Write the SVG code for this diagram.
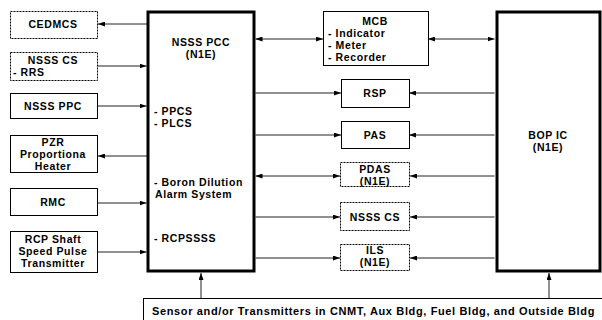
<svg xmlns="http://www.w3.org/2000/svg" width="602" height="320" viewBox="0 0 602 320">
<defs>
<marker id="ah" markerWidth="7" markerHeight="5" refX="7" refY="2.5" orient="auto-start-reverse" markerUnits="userSpaceOnUse">
<path d="M0,0 L7,2.5 L0,5 z" fill="#000"/>
</marker>
<style>
.t{font-family:"Liberation Sans",Arial,sans-serif;font-weight:bold;font-size:10.5px;letter-spacing:0.6px;fill:#000}
.c{text-anchor:middle}
.b{fill:#fff;stroke:#000;stroke-width:1}
.d{fill:#fff;stroke:#000;stroke-width:1;stroke-dasharray:2,1}
.k{fill:#fff;stroke:#000;stroke-width:3}
.ln{stroke:#222;stroke-width:1;fill:none}
</style>
</defs>
<rect width="602" height="320" fill="#fff"/>
<g id="connectors">
<line class="ln" x1="147" y1="24" x2="98" y2="24" marker-end="url(#ah)"/>
<line class="ln" x1="97" y1="66" x2="146.5" y2="66" marker-end="url(#ah)"/>
<line class="ln" x1="97" y1="106" x2="146.5" y2="106" marker-end="url(#ah)"/>
<line class="ln" x1="147" y1="156" x2="98" y2="156" marker-end="url(#ah)"/>
<line class="ln" x1="97" y1="203" x2="146.5" y2="203" marker-end="url(#ah)"/>
<line class="ln" x1="97" y1="252" x2="146.5" y2="252" marker-end="url(#ah)"/>
<line class="ln" x1="255.5" y1="39" x2="323" y2="39" marker-start="url(#ah)" marker-end="url(#ah)"/>
<line class="ln" x1="428" y1="39" x2="494.5" y2="39" marker-start="url(#ah)" marker-end="url(#ah)"/>
<line class="ln" x1="255.5" y1="93" x2="341" y2="93" marker-end="url(#ah)"/>
<line class="ln" x1="494.5" y1="93" x2="409" y2="93" marker-end="url(#ah)"/>
<line class="ln" x1="255.5" y1="135" x2="341" y2="135" marker-end="url(#ah)"/>
<line class="ln" x1="494.5" y1="135" x2="409" y2="135" marker-end="url(#ah)"/>
<line class="ln" x1="255.5" y1="176" x2="340" y2="176" marker-start="url(#ah)" marker-end="url(#ah)"/>
<line class="ln" x1="494.5" y1="176" x2="410" y2="176" marker-end="url(#ah)"/>
<line class="ln" x1="255.5" y1="217" x2="340" y2="217" marker-end="url(#ah)"/>
<line class="ln" x1="494.5" y1="217" x2="410" y2="217" marker-end="url(#ah)"/>
<line class="ln" x1="255.5" y1="258" x2="340" y2="258" marker-end="url(#ah)"/>
<line class="ln" x1="494.5" y1="258" x2="410" y2="258" marker-end="url(#ah)"/>
<line class="ln" x1="201" y1="298" x2="201" y2="273" marker-end="url(#ah)"/>
<line class="ln" x1="549" y1="298" x2="549" y2="273" marker-end="url(#ah)"/>
</g>
<g id="cedmcs"><rect class="d" x="10.5" y="11.5" width="87" height="27"/><text class="t c" x="53" y="28">CEDMCS</text></g>
<g id="nsss-cs-rrs"><rect class="d" x="10.5" y="52.5" width="87" height="28"/><text class="t c" x="53" y="64">NSSS CS</text><text class="t" x="13" y="76">- RRS</text></g>
<g id="nsss-ppc"><rect class="b" x="10.5" y="93.5" width="87" height="25"/><text class="t c" x="53" y="110">NSSS PPC</text></g>
<g id="pzr"><rect class="b" x="10.5" y="135.5" width="87" height="37"/><text class="t c" x="53" y="146">PZR</text><text class="t c" x="53" y="158">Proportiona</text><text class="t c" x="53" y="170">Heater</text></g>
<g id="rmc"><rect class="b" x="10.5" y="188.5" width="87" height="27"/><text class="t c" x="53" y="206">RMC</text></g>
<g id="rcp"><rect class="b" x="10.5" y="231.5" width="87" height="41"/><text class="t c" x="53" y="243">RCP Shaft</text><text class="t c" x="53" y="255">Speed Pulse</text><text class="t c" x="53" y="267">Transmitter</text></g>
<g id="nsss-pcc"><rect class="k" x="148" y="12" width="106" height="259"/><text class="t c" x="201" y="46">NSSS PCC</text><text class="t c" x="201" y="58">(N1E)</text><text class="t" x="154" y="115">- PPCS</text><text class="t" x="154" y="127">- PLCS</text><text class="t" x="154" y="186">- Boron Dilution</text><text class="t" x="155" y="198">Alarm System</text><text class="t" x="154" y="242">- RCPSSSS</text></g>
<g id="mcb"><rect class="b" x="323.5" y="11.5" width="105" height="54"/><text class="t c" x="375" y="25">MCB</text><text class="t" x="328" y="37">- Indicator</text><text class="t" x="328" y="49">- Meter</text><text class="t" x="328" y="61">- Recorder</text></g>
<g id="rsp"><rect class="b" x="341.5" y="79.5" width="68" height="28"/><text class="t c" x="375" y="97">RSP</text></g>
<g id="pas"><rect class="b" x="341.5" y="121.5" width="68" height="27"/><text class="t c" x="375" y="139">PAS</text></g>
<g id="pdas"><rect class="d" x="340.5" y="162.5" width="69" height="24"/><text class="t c" x="375" y="173">PDAS</text><text class="t c" x="375" y="185">(N1E)</text></g>
<g id="nsss-cs"><rect class="d" x="340.5" y="202.5" width="69" height="28"/><text class="t c" x="375" y="221">NSSS CS</text></g>
<g id="ils"><rect class="d" x="340.5" y="244.5" width="69" height="26"/><text class="t c" x="375" y="254">ILS</text><text class="t c" x="375" y="266">(N1E)</text></g>
<g id="bop-ic"><rect class="k" x="497" y="12" width="103" height="259"/><text class="t c" x="548" y="139">BOP IC</text><text class="t c" x="548" y="151">(N1E)</text></g>
<g id="sensors"><rect class="b" x="143.5" y="298.5" width="470" height="30"/><text class="t" x="152" y="315" textLength="443" lengthAdjust="spacingAndGlyphs">Sensor and/or Transmitters in CNMT, Aux Bldg, Fuel Bldg, and Outside Bldg</text></g>
</svg>
